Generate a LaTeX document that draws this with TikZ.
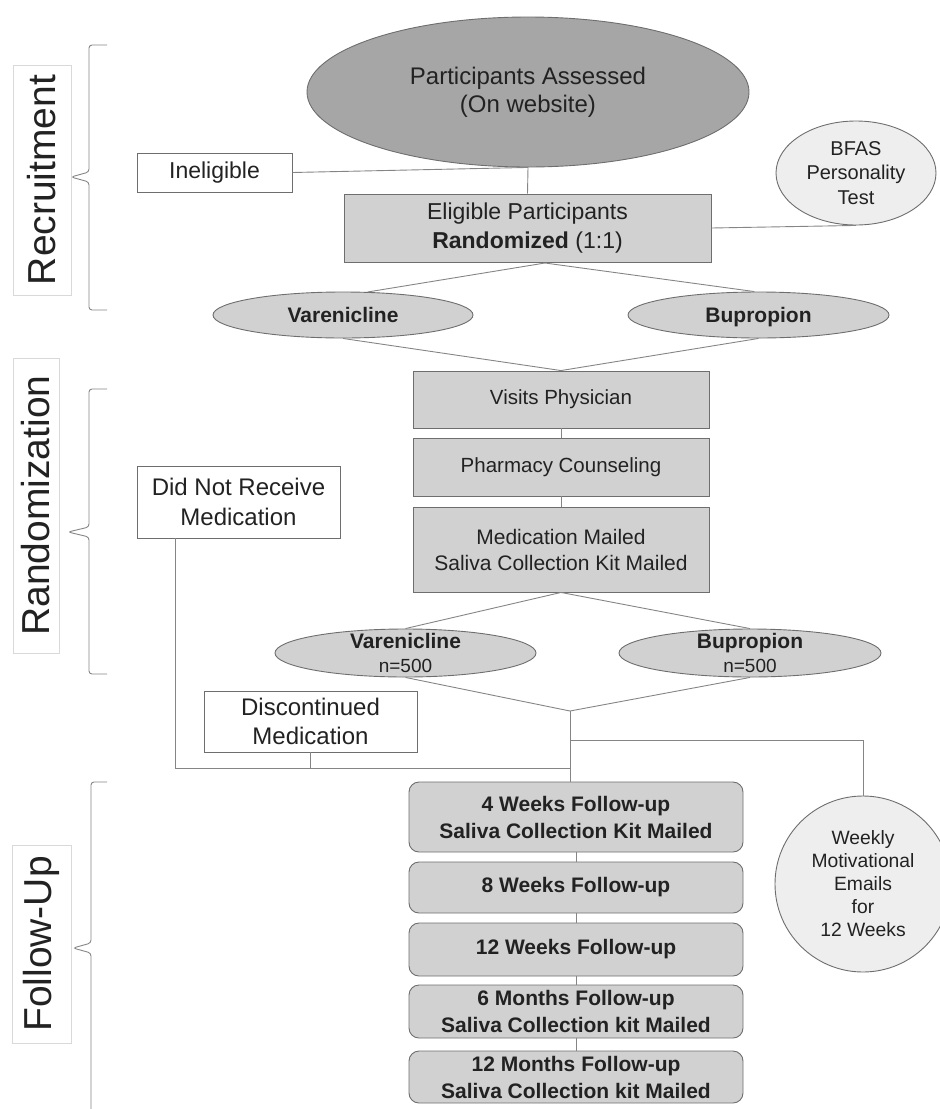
\documentclass[tikz,border=0pt]{standalone}
\usepackage{fontspec}
\setmainfont{Liberation Sans}
\usetikzlibrary{shapes.geometric}

\definecolor{edgegray}{HTML}{858585}
\definecolor{bordergray}{HTML}{6E6E6E}
\definecolor{darkfill}{HTML}{A6A6A6}
\definecolor{boxfill}{HTML}{D1D1D1}
\definecolor{palefill}{HTML}{EEEEEE}
\definecolor{textgray}{HTML}{222222}

\tikzset{
    flowbox/.style={rectangle, draw=bordergray, fill=boxfill, inner sep=0pt, align=center, text=textgray},
    exitbox/.style={rectangle, draw=bordergray, fill=white, inner sep=0pt, align=center, text=textgray},
    followbox/.style={rectangle, rounded corners=10pt, draw=bordergray, fill=boxfill, inner sep=0pt, align=center, text=textgray,
        minimum width=334pt, font=\fontsize{21}{27}\selectfont\bfseries},
    oval/.style={ellipse, draw=bordergray, inner sep=0pt, align=center, text=textgray},
    armoval/.style={oval, fill=boxfill, inner ysep=-8pt},
    phaselabel/.style={rectangle, draw=black!15, fill=white, rotate=90, inner sep=0pt, text=textgray, font=\fontsize{39}{44}\selectfont},
    phasebrace/.style={draw=edgegray, rounded corners=3pt},
    link/.style={draw=edgegray},
}

\begin{document}
\begin{tikzpicture}[x=1pt, y=-1pt, line width=0.9pt]
        \useasboundingbox (0, 0) rectangle (940, 1109);

        % Phases
        \node[phaselabel, minimum width=230pt, minimum height=58pt] at (42, 180)  (recruit)  {Recruitment};
        \node[phaselabel, minimum width=295pt, minimum height=46pt] at (36, 505.5)  (random)  {Randomization};
        \node[phaselabel, minimum width=198pt, minimum height=59pt] at (41.5, 944)  (follow)  {Follow-Up};

        \draw[phasebrace] (107, 45) -- (89, 45) -- (89, 172) -- (71, 177) -- (89, 182) -- (89, 310) -- (107, 310);
        \draw[phasebrace] (107, 389) -- (89, 389) -- (89, 527) -- (68, 532) -- (89, 537) -- (89, 674) -- (107, 674);
        \draw[phasebrace] (107, 782) -- (91, 782) -- (91, 943) -- (73, 948) -- (91, 953) -- (91, 1114) -- (107, 1114);

        % Recruitment
        \node[oval, fill=darkfill, minimum width=442pt, minimum height=150pt, font=\fontsize{24}{28}\selectfont] at (528, 92)  (assess)  {Participants Assessed\\(On website)};
        \node[exitbox, minimum width=155pt, minimum height=39pt, font=\fontsize{23}{28}\selectfont] at (214.5, 172.5)  (inelig)  {Ineligible};
        \node[flowbox, minimum width=367pt, minimum height=68pt, font=\fontsize{23}{29}\selectfont] at (527.5, 228)  (elig)  {Eligible Participants\\\textbf{Randomized} (1:1)};
        \node[oval, fill=palefill, minimum width=160pt, minimum height=104pt, font=\fontsize{20}{24.5}\selectfont] at (856, 173)  (bfas)  {BFAS\\Personality\\Test};
        \node[armoval, text height=15pt, text depth=0pt, minimum width=260pt, minimum height=46pt, font=\fontsize{21}{25}\selectfont\bfseries] at (343, 315)  (varA)  {Varenicline};
        \node[armoval, text height=15pt, text depth=0pt, minimum width=261pt, minimum height=46pt, font=\fontsize{21}{25}\selectfont\bfseries] at (758.5, 315)  (bupA)  {Bupropion};

        % Randomization
        \node[flowbox, minimum width=296pt, minimum height=57pt, font=\fontsize{20.5}{25}\selectfont] at (561, 399.5)  (visits)  {Visits Physician};
        \node[flowbox, minimum width=296pt, minimum height=58pt, font=\fontsize{20.5}{25}\selectfont] at (561, 467)  (pharm)  {Pharmacy Counseling};
        \node[flowbox, minimum width=296pt, minimum height=85pt, font=\fontsize{21}{26}\selectfont] at (561, 549.5)  (medmail)  {Medication Mailed\\Saliva Collection Kit Mailed};
        \node[armoval, minimum width=261pt, minimum height=48pt, font=\fontsize{21}{24}\selectfont] at (405.5, 653)  (varB)  {\textbf{Varenicline}\\{\fontsize{19}{24}\selectfont n=500}};
        \node[armoval, minimum width=262pt, minimum height=48pt, font=\fontsize{21}{24}\selectfont] at (750, 653)  (bupB)  {\textbf{Bupropion}\\{\fontsize{19}{24}\selectfont n=500}};
        \node[exitbox, minimum width=203pt, minimum height=72pt, font=\fontsize{24}{30}\selectfont] at (238.5, 502)  (norecv)  {Did Not Receive\\Medication};
        \node[exitbox, minimum width=213pt, minimum height=61pt, font=\fontsize{24}{29}\selectfont] at (310.5, 721.5)  (discont)  {Discontinued\\Medication};

        % Follow-up
        \node[followbox, minimum height=70pt] at (576, 817)  (wk4)  {4 Weeks Follow-up\\Saliva Collection Kit Mailed};
        \node[followbox, minimum height=51pt] at (576, 887.5)  (wk8)  {8 Weeks Follow-up};
        \node[followbox, minimum height=53pt] at (576, 949.5)  (wk12)  {12 Weeks Follow-up};
        \node[followbox, minimum height=53pt] at (576, 1011.5)  (mo6)  {6 Months Follow-up\\Saliva Collection kit Mailed};
        \node[followbox, minimum height=52pt] at (576, 1077)  (mo12)  {12 Months Follow-up\\Saliva Collection kit Mailed};
        \node[circle, draw=bordergray, fill=palefill, minimum size=176pt, inner sep=0pt, align=center, text=textgray, font=\fontsize{19.3}{23}\selectfont] at (863, 884)  (emails)  {Weekly\\Motivational\\Emails\\for\\12 Weeks};

        % Links
        \coordinate (splitA) at (545, 263);
        \coordinate (joinB) at (570, 711);
        \coordinate (mailfork) at (570, 740);
        \coordinate (dropout) at (175, 768);

        \draw[link] (assess.south) -- (elig.north);
        \draw[link] (inelig.east) -- (assess.south);
        \draw[link] (elig.east) -- (bfas.south);
        \draw[link] (varA.43) -- (splitA) -- (bupA.100);
        \draw[link] (varA.south) -- (visits.north) -- (bupA.south);
        \draw[link] (visits.south) -- (pharm.north);
        \draw[link] (pharm.south) -- (medmail.north);
        \draw[link] (varB.north) -- (medmail.south) -- (bupB.north);
        \draw[link] (varB.south) -- (joinB) -- (bupB.south);
        \draw[link] (joinB) -- (joinB |- wk4.north);
        \draw[link] (mailfork) -| (emails.north);
        \draw[link] (norecv.south -| dropout) -- (dropout) -- (joinB |- dropout);
        \draw[link] (discont.south) -- (discont.south |- dropout);
        \foreach \a/\b in {wk4/wk8, wk8/wk12, wk12/mo6, mo6/mo12}
            \draw[link] (\a.south) -- (\b.north);

\end{tikzpicture}
\end{document}
